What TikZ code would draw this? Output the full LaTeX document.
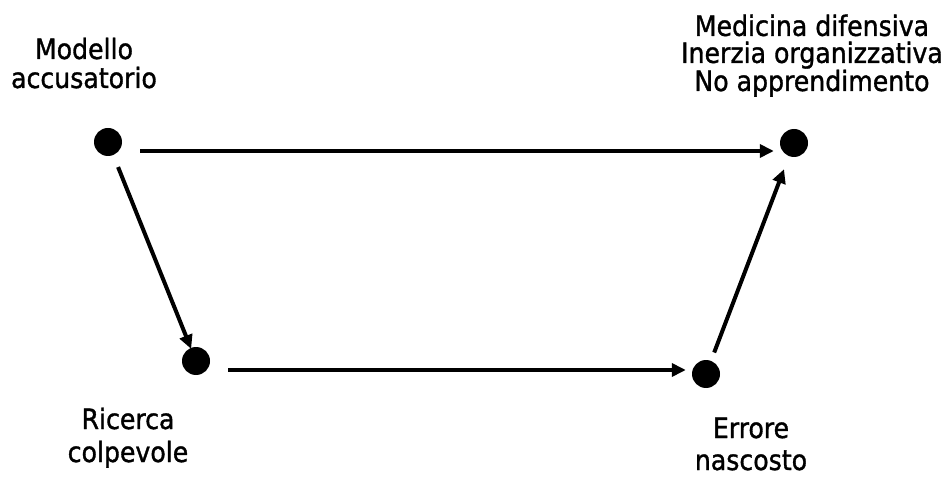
\documentclass[tikz,border=0pt]{standalone}
\usepackage{fontspec}
\setmainfont{DejaVu Sans Condensed}
\newfontfamily\lblfont[FakeBold=1.2]{DejaVu Sans Condensed}
\usetikzlibrary{arrows.meta}
\begin{document}
\begin{tikzpicture}[x=1pt,y=-1pt,
  dot/.style={circle,fill=black,minimum size=28pt,inner sep=0pt},
  lbl/.style={align=center,font=\lblfont\fontsize{28}{29}\selectfont,inner sep=0pt},
  arr/.style={line width=4pt,-{Triangle[length=14pt,width=13pt]}}]
\useasboundingbox (0,0) rectangle (945,478);
\node[dot] (A) at (108,142) {};
\node[dot] (B) at (196,361) {};
\node[dot] (C) at (706,374) {};
\node[dot] (D) at (794,143) {};
\node[lbl,anchor=base] (tA) at (84,88) {Modello\\accusatorio};
\node[lbl,anchor=base,font=\lblfont\fontsize{28}{27}\selectfont] (tD) at (812,91) {Medicina difensiva\\Inerzia organizzativa\\No apprendimento};
\node[lbl,anchor=base,font=\lblfont\fontsize{28}{33}\selectfont] (tB) at (128,462) {Ricerca\\colpevole};
\node[lbl,anchor=base,font=\lblfont\fontsize{28}{32}\selectfont] (tC) at (751,470) {Errore\\nascosto};
\draw[arr] ([xshift=18pt,yshift=-9pt]A.east) -- ([xshift=-6pt,yshift=-8pt]D.west);
\draw[arr,shorten <=27pt,shorten >=13pt] (A.center) -- (B.center);
\draw[arr] ([xshift=18pt,yshift=-9pt]B.east) -- ([xshift=-6pt,yshift=4pt]C.west);
\draw[arr,shorten <=23pt,shorten >=28pt] (C.center) -- (D.center);
\end{tikzpicture}
\end{document}
